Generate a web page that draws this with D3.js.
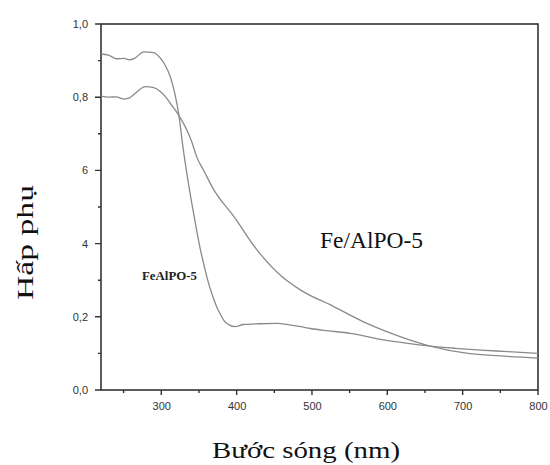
<!DOCTYPE html>
<html>
<head>
<meta charset="utf-8">
<script src="https://cdn.jsdelivr.net/npm/d3@7"></script>
<style>
  body { margin: 0; background: #fff; }
  svg { display: block; }
</style>
</head>
<body>
<div id="chart"></div>
<script>
const width = 550;
const height = 465;
const margin = { top: 24, right: 12, bottom: 75, left: 101 };

// FeAlPO-5 (steep drop)
const wlA = [220, 230, 241, 250, 258, 265, 277, 290, 299, 305, 312, 318, 323, 329, 336, 344, 352, 358, 363, 368, 374, 379, 383, 390, 398, 409, 430, 454, 470, 485, 498, 520, 551, 595, 625, 657, 690, 724, 760, 800];
const absA = [0.918, 0.915, 0.905, 0.906, 0.902, 0.907, 0.924, 0.922, 0.906, 0.888, 0.856, 0.81, 0.756, 0.66, 0.565, 0.47, 0.383, 0.33, 0.29, 0.258, 0.225, 0.205, 0.19, 0.178, 0.173, 0.179, 0.181, 0.182, 0.178, 0.173, 0.168, 0.162, 0.155, 0.137, 0.128, 0.12, 0.114, 0.109, 0.105, 0.10];

// Fe/AlPO-5 (gradual)
const wlB = [220, 230, 240, 250, 258, 265, 279, 290, 299, 306, 312, 323, 336, 341, 347, 356, 370, 396, 427, 460, 485, 529, 573, 617, 657, 707, 750, 800];
const absB = [0.803, 0.80, 0.801, 0.795, 0.798, 0.81, 0.829, 0.826, 0.815, 0.80, 0.783, 0.751, 0.701, 0.675, 0.637, 0.601, 0.546, 0.475, 0.383, 0.31, 0.273, 0.228, 0.182, 0.146, 0.12, 0.10, 0.093, 0.087];

const xTicks = [300, 400, 500, 600, 700, 800];
const xMinor = [250, 350, 450, 550, 650, 750];
const yTicks = [0, 0.2, 0.4, 0.6, 0.8, 1.0];
const yTickLabels = ["0,0", "0,2", "4", "6", "0,8", "1,0"];
const yMinor = [0.1, 0.3, 0.5, 0.7, 0.9];

const svg = d3.select("#chart")
  .append("svg")
  .attr("width", width)
  .attr("height", height);

const x = d3.scaleLinear().domain([220, 800]).range([margin.left, width - margin.right]);
const y = d3.scaleLinear().domain([0, 1]).range([height - margin.bottom, margin.top]);

const axisColor = "#333";

// frame
svg.append("rect")
  .attr("x", x(220))
  .attr("y", y(1))
  .attr("width", x(800) - x(220))
  .attr("height", y(0) - y(1))
  .style("fill", "none")
  .style("stroke", axisColor)
  .style("stroke-width", "1.6px");

// curves
const line = d3.line()
  .x(d => x(d[0]))
  .y(d => y(d[1]))
  .curve(d3.curveMonotoneX);

const seriesA = wlA.map((w, i) => [w, absA[i]]);
const seriesB = wlB.map((w, i) => [w, absB[i]]);

[seriesA, seriesB].forEach(s => {
  svg.append("path")
    .datum(s)
    .attr("d", line)
    .style("fill", "none")
    .style("stroke", "#8a8a8a")
    .style("stroke-width", "1.3px");
});

// ticks, outward, from the scales
function tickPath(vals, pos, len, horizontal) {
  return vals.map(v => horizontal
    ? `M${x(v)},${pos}v${len}`
    : `M${pos},${y(v)}h${-len}`).join("");
}
const tickStyle = sel => sel.style("fill", "none").style("stroke", axisColor).style("stroke-width", "1.4px");
svg.append("path").attr("d", tickPath(xTicks, y(0), 5, true)).call(tickStyle);
svg.append("path").attr("d", tickPath(xMinor, y(0), 3, true)).call(tickStyle);
svg.append("path").attr("d", tickPath(yTicks, x(220), 6, false)).call(tickStyle);
svg.append("path").attr("d", tickPath(yMinor, x(220), 3, false)).call(tickStyle);

// tick labels through d3 axes
function styleAxis(g) {
  g.select(".domain").remove();
  g.selectAll(".tick line").remove();
  g.selectAll(".tick text")
    .attr("fill", "#333")
    .style("font-family", "'Liberation Sans', Arial, sans-serif")
    .style("font-size", "11px");
}
svg.append("g")
  .attr("transform", `translate(0,${y(0)})`)
  .call(d3.axisBottom(x).tickValues(xTicks).tickSize(5).tickPadding(7))
  .call(styleAxis);
svg.append("g")
  .attr("transform", `translate(${x(220)},0)`)
  .call(d3.axisLeft(y).tickValues(yTicks).tickSize(6).tickPadding(7)
    .tickFormat((d, i) => yTickLabels[i]))
  .call(styleAxis);

// labels
const serif = "'Liberation Serif', 'Times New Roman', Times, serif";

svg.append("text")
  .attr("x", 142)
  .attr("y", 280)
  .attr("textLength", 55)
  .attr("lengthAdjust", "spacingAndGlyphs")
  .style("font-family", serif)
  .style("font-weight", "bold")
  .style("font-size", "13px")
  .attr("fill", "#222")
  .text("FeAlPO-5");

svg.append("text")
  .attr("x", 320)
  .attr("y", 248)
  .attr("textLength", 103)
  .attr("lengthAdjust", "spacingAndGlyphs")
  .style("font-family", serif)
  .style("font-size", "23px")
  .attr("fill", "#111")
  .text("Fe/AlPO-5");

svg.append("text")
  .attr("x", 212)
  .attr("y", 458)
  .attr("textLength", 188)
  .attr("lengthAdjust", "spacingAndGlyphs")
  .style("font-family", serif)
  .style("font-size", "23px")
  .attr("fill", "#111")
  .text("Bước sóng (nm)");

svg.append("text")
  .attr("transform", "translate(33,300) rotate(-90)")
  .attr("textLength", 115)
  .attr("lengthAdjust", "spacingAndGlyphs")
  .style("font-family", serif)
  .style("font-size", "24px")
  .attr("fill", "#111")
  .text("Hấp phụ");
</script>
</body>
</html>
